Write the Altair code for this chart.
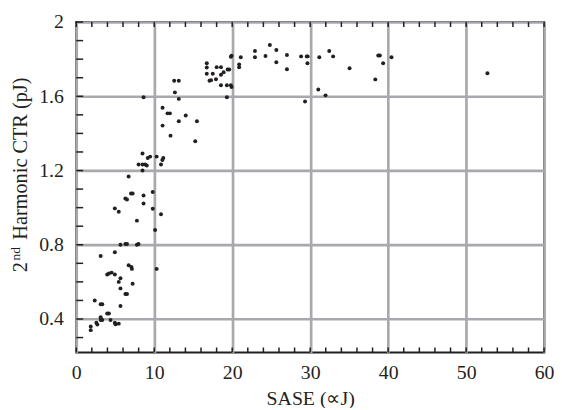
import altair as alt
import pandas as pd

sase = [3.13, 4.95, 6.72, 7.07, 7.14, 10.31, 3.97, 4.19, 4.53, 4.95, 5.67, 5.45, 7.23, 5.67, 6.30, 6.51,
        2.37, 3.13, 3.34, 5.67, 3.97, 4.19, 3.13, 3.13, 3.34, 2.58, 2.70, 4.40, 4.95, 5.04, 5.45, 1.86, 1.86,
        8.50, 9.17, 9.48, 10.31, 11.16, 11.04, 7.99, 8.50, 8.84, 9.04, 10.87, 8.50, 6.72, 9.81, 7.02, 7.23,
        6.30, 6.51, 8.63, 8.63, 9.81, 4.95, 5.45, 10.87, 7.78, 10.11, 5.67, 6.30, 6.51, 7.78, 7.99,
        8.63, 12.56, 13.15, 12.65, 13.15, 11.07, 11.71, 12.01, 14.04, 13.15, 15.48, 11.07, 12.09, 15.26,
        19.83, 19.92, 21.10, 20.89, 20.89, 22.92, 22.92, 16.74, 16.74, 16.74, 18.01, 18.56, 17.51, 18.56,
        18.90, 19.41, 19.62, 17.09, 17.29, 17.92, 18.56, 19.32, 19.83, 19.92, 19.32,
        24.83, 24.27, 25.66, 25.66, 27.02, 27.02, 28.83, 29.56, 29.68, 29.65, 31.17, 32.44, 32.94, 35.05,
        29.34, 31.04, 31.97, 38.73, 38.94, 39.36, 40.43, 38.35, 52.73]
ctr = [0.74, 0.76, 0.69, 0.68, 0.67, 0.67, 0.64, 0.645, 0.65, 0.64, 0.62, 0.60, 0.59, 0.565, 0.535, 0.535,
       0.50, 0.48, 0.48, 0.47, 0.43, 0.43, 0.41, 0.395, 0.395, 0.38, 0.37, 0.395, 0.38, 0.372, 0.375, 0.36, 0.34,
       1.292, 1.268, 1.275, 1.275, 1.268, 1.257, 1.232, 1.232, 1.232, 1.227, 1.232, 1.20, 1.168, 1.084, 1.076, 1.076,
       1.049, 1.044, 1.065, 1.022, 0.994, 0.996, 0.978, 0.964, 0.93, 0.88, 0.80, 0.804, 0.804, 0.80, 0.804,
       1.595, 1.684, 1.684, 1.621, 1.586, 1.538, 1.508, 1.508, 1.497, 1.465, 1.465, 1.442, 1.388, 1.358,
       1.813, 1.819, 1.81, 1.772, 1.756, 1.844, 1.81, 1.778, 1.755, 1.721, 1.757, 1.757, 1.721, 1.716,
       1.73, 1.744, 1.744, 1.684, 1.687, 1.692, 1.659, 1.659, 1.659, 1.65, 1.595,
       1.876, 1.817, 1.849, 1.783, 1.822, 1.746, 1.815, 1.815, 1.815, 1.778, 1.81, 1.844, 1.815, 1.751,
       1.572, 1.636, 1.605, 1.82, 1.82, 1.778, 1.81, 1.691, 1.724]

x_ticks = list(range(0, 61, 2))
y_ticks = [round(0.3 + 0.1 * i, 1) for i in range(18)]
x_labels = [0, 10, 20, 30, 40, 50, 60]
y_labels = [0.4, 0.8, 1.2, 1.6, 2.0]

W, H = 473, 334
FONT = "Liberation Serif"
INK = "#231f20"
GRID = "#a7a9ac"

df = pd.DataFrame({"sase": sase, "ctr": ctr})
xt = pd.DataFrame({"t": x_ticks})
yt = pd.DataFrame({"t": y_ticks})

xscale = alt.Scale(domain=[0, 60], nice=False, zero=False)
yscale = alt.Scale(domain=[0.22, 2.0], nice=False, zero=False)

xaxis = alt.Axis(values=x_labels, title="SASE (∝J)", grid=True, gridColor=GRID, gridWidth=2.7,
                 ticks=False, domain=False, labelFont=FONT, labelFontSize=20, labelColor=INK,
                 labelPadding=10, titleFont=FONT, titleFontSize=20, titleFontWeight="normal",
                 titleColor=INK, titlePadding=7, labelFlush=False)
yaxis = alt.Axis(values=y_labels, title=None, grid=True, gridColor=GRID, gridWidth=2.7,
                 ticks=False, domain=False, labelFont=FONT, labelFontSize=20, labelColor=INK,
                 labelPadding=13, format="~g", labelFlush=False)

points = alt.Chart(df).mark_circle(size=16, color=INK, opacity=1).encode(
    x=alt.X("sase:Q", scale=xscale, axis=xaxis),
    y=alt.Y("ctr:Q", scale=yscale, axis=yaxis),
)

xt_bottom = alt.Chart(xt).mark_rule(color=INK, strokeWidth=1.5).encode(
    x=alt.X("t:Q", scale=xscale), y=alt.value(H), y2=alt.value(H - 5))
xt_top = alt.Chart(xt).mark_rule(color=INK, strokeWidth=1.5).encode(
    x=alt.X("t:Q", scale=xscale), y=alt.value(0), y2=alt.value(5))
yt_left = alt.Chart(yt).mark_rule(color=INK, strokeWidth=1.5).encode(
    y=alt.Y("t:Q", scale=yscale), x=alt.value(0), x2=alt.value(7))

title_df = pd.DataFrame({"a": [0]})
t1 = alt.Chart(title_df).mark_text(text="2", angle=270, align="left", baseline="alphabetic",
                                   font=FONT, fontSize=20.5, color=INK).encode(
    x=alt.value(-50), y=alt.value(253))
t2 = alt.Chart(title_df).mark_text(text="nd", angle=270, align="left", baseline="alphabetic",
                                   font=FONT, fontSize=13.5, color=INK).encode(
    x=alt.value(-57), y=alt.value(241))
t3 = alt.Chart(title_df).mark_text(text="Harmonic CTR (pJ)", angle=270, align="left",
                                   baseline="alphabetic", font=FONT, fontSize=20.5, color=INK).encode(
    x=alt.value(-50), y=alt.value(220))

chart = alt.layer(points, xt_bottom, xt_top, yt_left, t1, t2, t3).properties(
    width=W, height=H,
    background="white",
    padding={"left": 69, "top": 12, "right": 10, "bottom": 54},
    autosize=alt.AutoSizeParams(type="none"),
).configure_view(stroke=INK, strokeWidth=2)

chart.save("out.html", embed_options={"renderer": "svg", "actions": False})
